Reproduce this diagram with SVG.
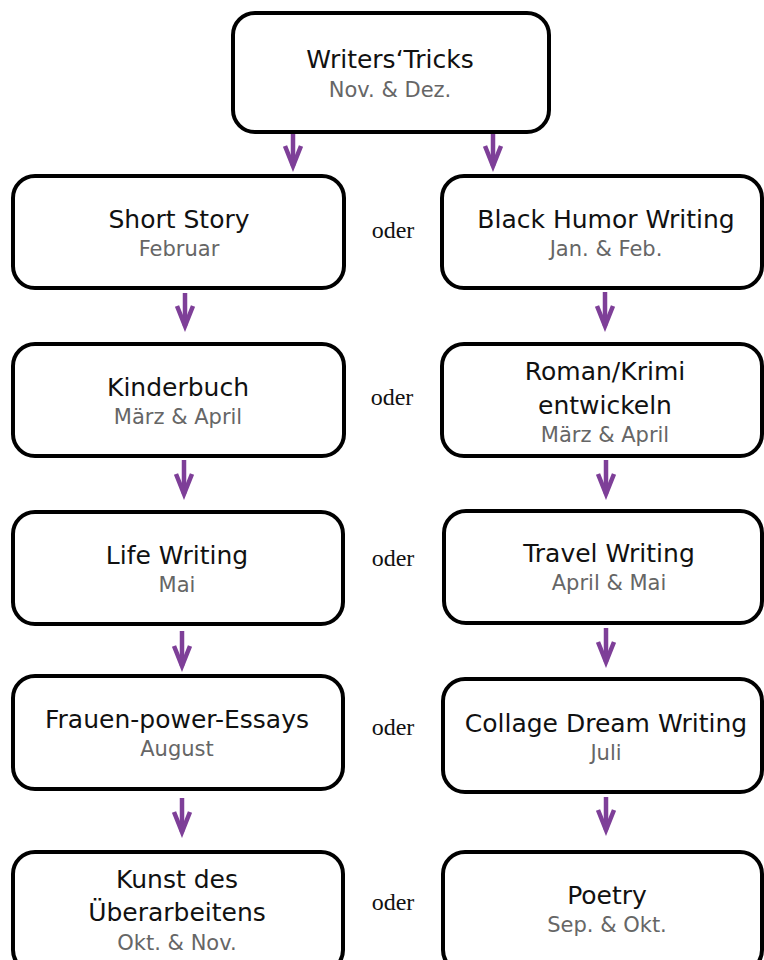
<svg xmlns="http://www.w3.org/2000/svg" width="764" height="960" viewBox="0 0 764 960">
  <defs>
    <style>
      .box { fill: #ffffff; stroke: #000000; stroke-width: 4; }
      .t { font-family: "DejaVu Sans", Verdana, sans-serif; font-size: 25px; fill: #111111; text-anchor: middle; }
      .s { font-family: "DejaVu Sans", Verdana, sans-serif; font-size: 21px; fill: #666666; text-anchor: middle; }
      .or { font-family: "Liberation Serif", "Times New Roman", serif; font-size: 24px; fill: #111111; text-anchor: middle; }
      .arr { fill: none; stroke: #7e3f98; stroke-width: 4.5; marker-end: url(#ah); }
    </style>
    <marker id="ah" markerUnits="userSpaceOnUse" viewBox="-4 -4 30 28" markerWidth="30" markerHeight="28" refX="20" refY="10" orient="auto">
      <path d="M0,2 L20,10 L0,18" fill="none" stroke="#7e3f98" stroke-width="4.5" stroke-linejoin="miter" stroke-miterlimit="10"/>
    </marker>
  </defs>
  <rect width="764" height="960" fill="#ffffff"/>

  <g id="connectors">
    <line class="arr" x1="293" y1="133" x2="293" y2="166"/>
    <line class="arr" x1="493" y1="133" x2="493" y2="166"/>
    <line class="arr" x1="185" y1="293" x2="185" y2="326"/>
    <line class="arr" x1="605" y1="292" x2="605" y2="326"/>
    <line class="arr" x1="184" y1="460" x2="184" y2="494"/>
    <line class="arr" x1="606" y1="460" x2="606" y2="494"/>
    <line class="arr" x1="182" y1="631" x2="182" y2="666"/>
    <line class="arr" x1="606" y1="628" x2="606" y2="662"/>
    <line class="arr" x1="182" y1="798" x2="182" y2="832"/>
    <line class="arr" x1="606" y1="797" x2="606" y2="830"/>
  </g>

  <g id="oder-labels">
    <text class="or" x="393" y="238">oder</text>
    <text class="or" x="392" y="405">oder</text>
    <text class="or" x="393" y="566">oder</text>
    <text class="or" x="393" y="735">oder</text>
    <text class="or" x="393" y="910">oder</text>
  </g>

  <g id="n-writers">
    <rect class="box" x="233" y="13" width="316" height="119" rx="22"/>
    <text class="t" x="390" y="68">Writers‘Tricks</text>
    <text class="s" x="390" y="97">Nov. &amp; Dez.</text>
  </g>

  <g id="n-shortstory">
    <rect class="box" x="13" y="176" width="331" height="112" rx="22"/>
    <text class="t" x="179" y="228">Short Story</text>
    <text class="s" x="179" y="256">Februar</text>
  </g>
  <g id="n-blackhumor">
    <rect class="box" x="442" y="176" width="320" height="112" rx="22"/>
    <text class="t" x="606" y="228">Black Humor Writing</text>
    <text class="s" x="606" y="256">Jan. &amp; Feb.</text>
  </g>

  <g id="n-kinderbuch">
    <rect class="box" x="13" y="344" width="331" height="112" rx="22"/>
    <text class="t" x="178" y="396">Kinderbuch</text>
    <text class="s" x="178" y="424">März &amp; April</text>
  </g>
  <g id="n-roman">
    <rect class="box" x="442" y="344" width="320" height="112" rx="22"/>
    <text class="t" x="605" y="380">Roman/Krimi</text>
    <text class="t" x="605" y="414">entwickeln</text>
    <text class="s" x="605" y="442">März &amp; April</text>
  </g>

  <g id="n-lifewriting">
    <rect class="box" x="13" y="512" width="330" height="112" rx="22"/>
    <text class="t" x="177" y="564">Life Writing</text>
    <text class="s" x="177" y="592">Mai</text>
  </g>
  <g id="n-travel">
    <rect class="box" x="444" y="511" width="318" height="112" rx="22"/>
    <text class="t" x="609" y="562">Travel Writing</text>
    <text class="s" x="609" y="590">April &amp; Mai</text>
  </g>

  <g id="n-frauenpower">
    <rect class="box" x="13" y="676" width="330" height="113" rx="22"/>
    <text class="t" x="177" y="728">Frauen-power-Essays</text>
    <text class="s" x="177" y="756">August</text>
  </g>
  <g id="n-collage">
    <rect class="box" x="443" y="679" width="319" height="113" rx="22"/>
    <text class="t" x="606" y="732">Collage Dream Writing</text>
    <text class="s" x="606" y="760">Juli</text>
  </g>

  <g id="n-kunst">
    <rect class="box" x="13" y="852" width="330" height="120" rx="22"/>
    <text class="t" x="177" y="888">Kunst des</text>
    <text class="t" x="177" y="921">Überarbeitens</text>
    <text class="s" x="177" y="950">Okt. &amp; Nov.</text>
  </g>
  <g id="n-poetry">
    <rect class="box" x="443" y="852" width="319" height="120" rx="22"/>
    <text class="t" x="607" y="904">Poetry</text>
    <text class="s" x="607" y="932">Sep. &amp; Okt.</text>
  </g>
</svg>
